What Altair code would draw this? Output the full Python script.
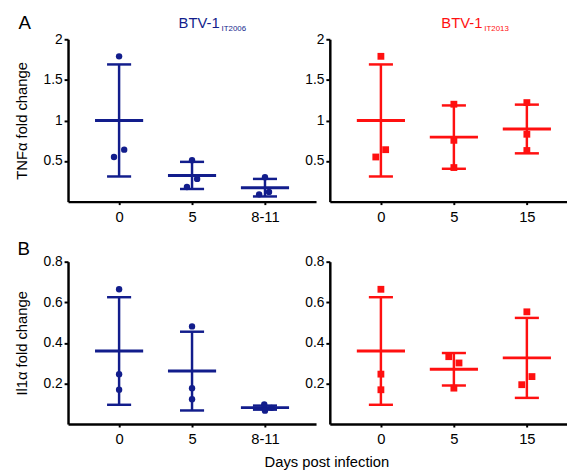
import json
import altair as alt
import pandas as pd

FONT = "Liberation Sans"
BLUE = "#121d8c"
RED = "#ff1010"

days_2006 = ["0", "5", "8-11"]
days_2013 = ["0", "5", "15"]

# TNFα fold change
tnf_2006_vals = [[1.79, 0.64, 0.55], [0.51, 0.28, 0.18], [0.30, 0.12, 0.09]]
tnf_2006_jit = [[0.0, 0.07, -0.07], [0.0, 0.07, -0.07], [0.0, 0.055, -0.08]]
tnf_2006_mean = [1.0, 0.323, 0.172]
tnf_2006_sd = [0.69, 0.167, 0.108]

tnf_2013_vals = [[1.79, 0.64, 0.55], [1.20, 0.755, 0.42], [1.22, 0.83, 0.63]]
tnf_2013_jit = [[0.0, 0.065, -0.07], [0.0, 0.0, 0.0], [0.0, 0.0, 0.0]]
tnf_2013_mean = [1.0, 0.795, 0.895]
tnf_2013_sd = [0.69, 0.39, 0.30]

# Il1α fold change
il1_2006_vals = [[0.664, 0.246, 0.169], [0.481, 0.177, 0.122], [0.097, 0.080, 0.066]]
il1_2006_jit = [[0.0, 0.0, 0.0], [0.0, 0.0, 0.0], [-0.01, 0.09, 0.0]]
il1_2006_mean = [0.36, 0.261, 0.081]
il1_2006_sd = [0.265, 0.194, 0.01]

il1_2013_vals = [[0.664, 0.246, 0.169], [0.332, 0.301, 0.177], [0.553, 0.234, 0.194]]
il1_2013_jit = [[0.0, 0.0, 0.0], [-0.07, 0.07, 0.0], [0.0, 0.07, -0.07]]
il1_2013_mean = [0.36, 0.27, 0.326]
il1_2013_sd = [0.265, 0.08, 0.197]


def text_layer(txt, x, y, size, color="black", align="center", baseline="middle"):
    return alt.Chart(alt.Data(values=[{"k": 1}])).mark_text(
        text=txt, fontSize=size, color=color, align=align, baseline=baseline, font=FONT
    ).encode(x=alt.value(x), y=alt.value(y))


def panel(days, vals, jit, means, sds, color, shape, ydom, yvals, yfmt, ytitle,
          width, xmax, texts):
    rows = []
    for i, d in enumerate(days):
        for v, j in zip(vals[i], jit[i]):
            rows.append({"day": d, "idx": i, "value": v, "x": i + j})
    pts = pd.DataFrame(rows)
    summ = pd.DataFrame({"day": days, "idx": list(range(len(days))),
                         "mean": means, "sd": sds})
    xs = alt.Scale(domain=[-0.7, xmax], nice=False, zero=False)
    ys = alt.Scale(domain=ydom, nice=False)
    xaxis = alt.Axis(values=list(range(len(days))),
                     labelExpr=json.dumps(days) + "[datum.value]",
                     title=None, tickSize=3, labelPadding=5, labelFontSize=15,
                     grid=False)
    yaxis = alt.Axis(values=yvals, format=yfmt, title=ytitle, grid=False,
                     tickSize=4, labelPadding=2, labelFontSize=14,
                     titleFontSize=15, titleFontWeight="normal", titlePadding=14)
    base = alt.Chart(summ).transform_calculate(
        lo="datum.mean - datum.sd", hi="datum.mean + datum.sd",
        c1="datum.idx - 0.165", c2="datum.idx + 0.165",
        m1="datum.idx - 0.33", m2="datum.idx + 0.33")
    vert = base.mark_rule(color=color, strokeWidth=2.5).encode(
        x=alt.X("idx:Q", scale=xs, axis=xaxis),
        y=alt.Y("lo:Q", scale=ys, axis=yaxis), y2="hi:Q")
    caph = base.mark_rule(color=color, strokeWidth=2.5).encode(
        x="c1:Q", x2="c2:Q", y="hi:Q")
    capl = base.mark_rule(color=color, strokeWidth=2.5).encode(
        x="c1:Q", x2="c2:Q", y="lo:Q")
    meanl = base.mark_rule(color=color, strokeWidth=3).encode(
        x="m1:Q", x2="m2:Q", y="mean:Q")
    size = 42 if shape == "circle" else 48
    points = alt.Chart(pts).mark_point(
        filled=True, shape=shape, size=size, color=color, opacity=1).encode(
        x="x:Q", y="value:Q")
    layers = [vert, caph, capl, meanl, points] + texts
    return alt.layer(*layers).properties(width=width, height=165)


W1, W2 = 252, 241
X1, X2 = 2.7, 2.55

pA1 = panel(days_2006, tnf_2006_vals, tnf_2006_jit, tnf_2006_mean, tnf_2006_sd,
            BLUE, "circle", [0, 2], [0.5, 1, 1.5, 2], "~g", "TNFα fold change",
            W1, X1,
            [text_layer("A", -44, -16, 19),
             text_layer("BTV-1", 154, -11, 15, BLUE, "right", "alphabetic"),
             text_layer("IT2006", 156, -8, 8, BLUE, "left", "alphabetic")])
pA2 = panel(days_2013, tnf_2013_vals, tnf_2013_jit, tnf_2013_mean, tnf_2013_sd,
            RED, "square", [0, 2], [0.5, 1, 1.5, 2], "~g", None,
            W2, X2,
            [text_layer("BTV-1", 155, -11, 15, RED, "right", "alphabetic"),
             text_layer("IT2013", 157, -8, 8, RED, "left", "alphabetic")])
pB1 = panel(days_2006, il1_2006_vals, il1_2006_jit, il1_2006_mean, il1_2006_sd,
            BLUE, "circle", [0, 0.8], [0.2, 0.4, 0.6, 0.8], ".1f", "Il1α fold change",
            W1, X1,
            [text_layer("B", -45, -13, 19),
             text_layer("Days post infection", 263, 204, 15)])
pB2 = panel(days_2013, il1_2013_vals, il1_2013_jit, il1_2013_mean, il1_2013_sd,
            RED, "square", [0, 0.8], [0.2, 0.4, 0.6, 0.8], ".1f", None,
            W2, X2, [])

chart = alt.concat(
    pA1, pA2, pB1, pB2, columns=2,
    spacing=alt.RowColnumber(row=61, column=14), bounds="flush"
).resolve_scale(x="independent", y="independent").properties(
    padding={"top": 3, "left": 6, "right": 0, "bottom": 2}
).configure_view(stroke=None).configure_axis(
    domainColor="black", domainWidth=2.5, tickColor="black", tickWidth=2,
    labelColor="black", titleColor="black", labelFont=FONT, titleFont=FONT
)

chart.save("out.html", embed_options={"renderer": "svg", "actions": False})
